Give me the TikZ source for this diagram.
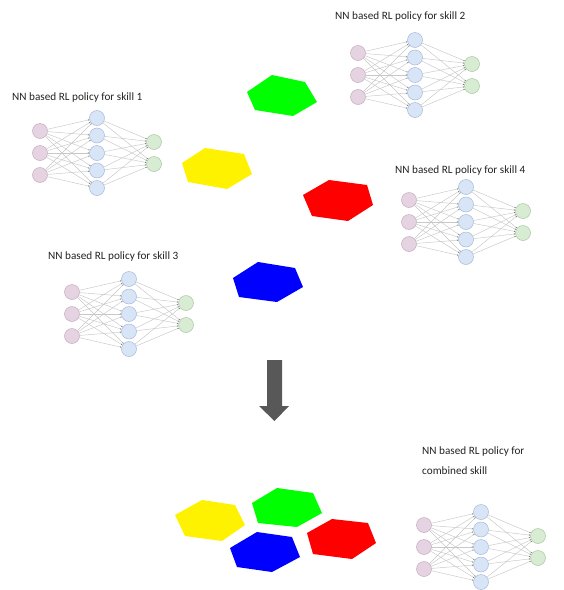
\documentclass[tikz,border=0pt]{standalone}
\usepackage{fontspec}
\setmainfont{Carlito}
\usetikzlibrary{arrows.meta}
\definecolor{inF}{RGB}{229,211,226}
\definecolor{inD}{RGB}{200,172,192}
\definecolor{hiF}{RGB}{216,229,246}
\definecolor{hiD}{RGB}{165,186,218}
\definecolor{ouF}{RGB}{216,236,212}
\definecolor{ouD}{RGB}{168,200,162}
\definecolor{edgeC}{RGB}{200,200,200}
\definecolor{txt}{RGB}{35,35,35}
\definecolor{arr}{RGB}{88,88,88}
\tikzset{
  neuron/.style={circle,minimum size=15pt,inner sep=0pt,line width=0.5pt},
  innode/.style={neuron,fill=inF,draw=inD},
  hidnode/.style={neuron,fill=hiF,draw=hiD},
  outnode/.style={neuron,fill=ouF,draw=ouD},
  edge/.style={draw=edgeC,line width=0.45pt,-{Stealth[length=1.5pt,width=1.2pt,color=black!55]}},
  lbl/.style={anchor=base west,inner sep=0pt,text=txt,font=\fontsize{11.2}{20}\selectfont},
  hexa/.style={line width=0pt}
}
\newcommand{\nnet}[3]{%
  \foreach \i/\dy in {1/-22,2/0,3/22} \node[innode] (#1i\i) at (#2,#3+\dy) {};
  \foreach \j/\dy in {1/-35,2/-17.5,3/0,4/17.5,5/35} \node[hidnode] (#1h\j) at (#2+57,#3+\dy) {};
  \foreach \k/\dy in {1/-11,2/11} \node[outnode] (#1o\k) at (#2+114,#3+\dy) {};
  \foreach \i in {1,2,3} \foreach \j in {1,...,5} \draw[edge] (#1i\i) -- (#1h\j);
  \foreach \j in {1,...,5} \foreach \k in {1,2} \draw[edge] (#1h\j) -- (#1o\k);
}
\begin{document}
\begin{tikzpicture}[x=1pt,y=-1pt]
\useasboundingbox[fill=white] (0,0) rectangle (564,590);
% networks
\nnet{a}{40}{153}
\nnet{b}{358}{75}
\nnet{d}{409}{222}
\nnet{c}{72}{314}
\nnet{e}{424}{547}
% labels
\node[lbl] (la) at (12,100) {NN based RL policy for skill 1};
\node[lbl] (lb) at (335,19) {NN based RL policy for skill 2};
\node[lbl] (ld) at (395,173) {NN based RL policy for skill 4};
\node[lbl] (lc) at (48,259) {NN based RL policy for skill 3};
\node[lbl,align=left] (le) at (422,474) {NN based RL policy for\\combined skill};
% hexagons top
\fill[green] (247,92) -- (272,75) -- (305,82) -- (317,102) -- (293,116) -- (255,110) -- cycle;
\fill[yellow] (182,163) -- (205,148) -- (244,154) -- (252,174) -- (227,189) -- (188,182) -- cycle;
\fill[red] (303,195) -- (329,180) -- (367,185) -- (373,205) -- (348,221) -- (312,216) -- cycle;
\fill[blue] (233,278) -- (258,262) -- (295,268) -- (303,287) -- (277,302) -- (239,297) -- cycle;
% arrow
\fill[arr] (267,360) -- (282,360) -- (282,406) -- (289,406) -- (274.5,421) -- (259,406) -- (267,406) -- cycle;
% hexagons bottom
\fill[yellow] (175,515) -- (202,500) -- (235,505) -- (245,525) -- (222,541) -- (185,536) -- cycle;
\fill[green] (252,503) -- (277,488) -- (313,493) -- (322,513) -- (297,527) -- (258,523) -- cycle;
\fill[blue] (230,548) -- (257,532) -- (292,537) -- (300,557) -- (272,572) -- (237,567) -- cycle;
\fill[red] (307,533) -- (332,519) -- (368,523) -- (376,543) -- (352,559) -- (313,554) -- cycle;
\end{tikzpicture}
\end{document}
